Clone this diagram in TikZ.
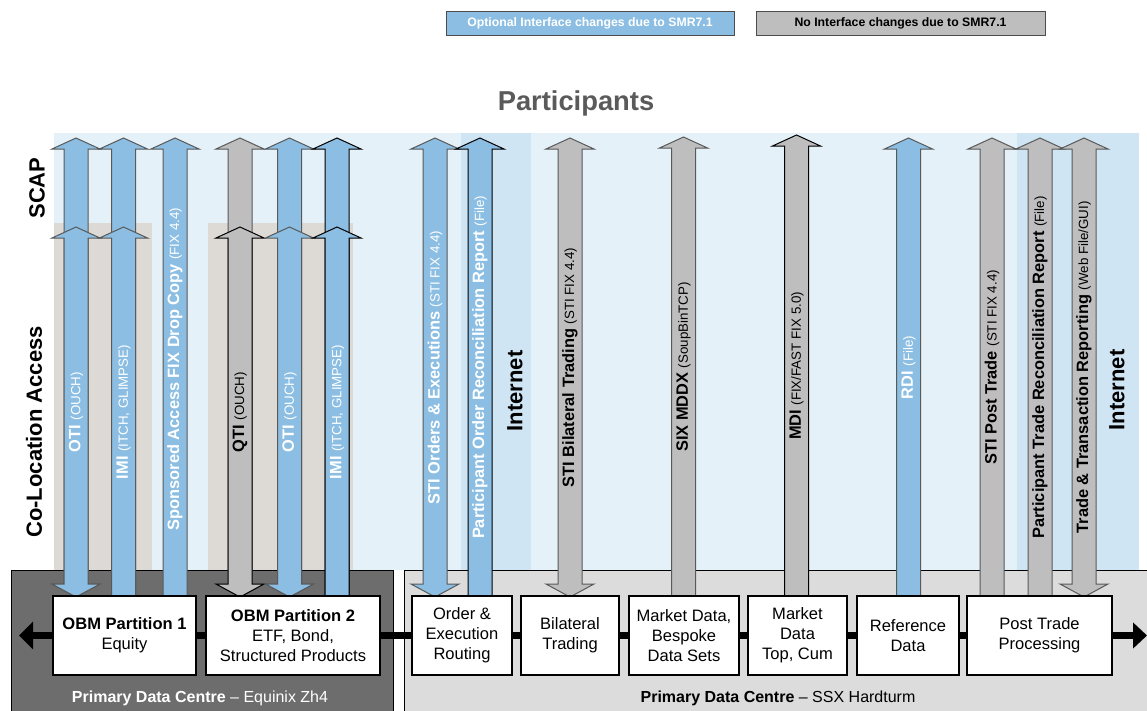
\documentclass[tikz,border=0pt]{standalone}
\usepackage{fontspec}
\setmainfont{Liberation Sans}
\usetikzlibrary{arrows.meta}

\definecolor{ifblue}{HTML}{8BBEE2}
\definecolor{ifgray}{HTML}{BEBEBE}
\definecolor{skybg}{HTML}{E5F1F8}
\definecolor{netbg}{HTML}{CFE5F3}
\definecolor{colobg}{HTML}{DDDAD6}
\definecolor{zhdark}{HTML}{6D6D6D}
\definecolor{hardlight}{HTML}{DCDCDC}
\definecolor{titlegray}{HTML}{5A5A5A}

% block arrow, head on top only: x, top, bottom, style
\newcommand{\ifaceUp}[4]{%
  \draw[#4] (#1-12,#3) -- (#1-12,#2+11) -- (#1-24,#2+11) -- (#1,#2)
    -- (#1+24,#2+11) -- (#1+12,#2+11) -- (#1+12,#3) -- cycle;}
% block arrow, heads on both ends
\newcommand{\ifaceBoth}[4]{%
  \draw[#4] (#1-12,#3-13) -- (#1-12,#2+11) -- (#1-24,#2+11) -- (#1,#2)
    -- (#1+24,#2+11) -- (#1+12,#2+11) -- (#1+12,#3-13) -- (#1+24,#3-13)
    -- (#1,#3) -- (#1-24,#3-13) -- cycle;}
\newcommand{\proto}[1]{{\fontsize{10}{12}\selectfont\mdseries #1}}

\tikzset{
  bluearr/.style={fill=ifblue, draw=black!65, line width=0.75pt},
  grayarr/.style={fill=ifgray, draw=black!65, line width=0.75pt},
  lbl/.style={rotate=90, inner sep=0pt, font=\fontsize{12.3}{14}\selectfont\bfseries},
  side/.style={rotate=90, inner sep=0pt, font=\fontsize{16.5}{19}\selectfont\bfseries},
  legend/.style={draw=black!70, line width=0.75pt, minimum height=18pt, inner sep=0pt,
    font=\fontsize{9.2}{11}\selectfont\bfseries},
  unit/.style={draw, fill=white, line width=1pt, minimum height=59.25pt, inner sep=0pt,
    align=center, font=\fontsize{12.4}{15}\selectfont},
  trunk/.style={line width=5.5pt, black}
}

\begin{document}
\begin{tikzpicture}[x=0.75pt,y=-0.75pt]
    \useasboundingbox (0,0) rectangle (1147,711);

    % Backgrounds
    \fill[skybg] (54,133) rectangle (1139,570);
    \fill[netbg] (461,133) rectangle (531,570);
    \fill[netbg] (1017,133) rectangle (1139,570);
    \fill[colobg] (54,223) rectangle (152,570);
    \fill[colobg] (208,223) rectangle (353,570);

    % Legend
    \node[legend, fill=ifblue, text=white, minimum width=216pt] (optleg) at (590,23) {Optional Interface changes due to SMR7.1};
    \node[legend, fill=ifgray, minimum width=216.75pt] (noleg) at (900.5,23) {No Interface changes due to SMR7.1};

    % Titles
    \node[font=\fontsize{20.5}{24}\selectfont\bfseries, text=titlegray] (parts) at (576,103) {Participants};
    \node[side] (scap) at (37,188) {SCAP};
    \node[side] (coloc) at (34,432) {Co-Location Access};
    \node[side] (netA) at (515,391) {Internet};
    \node[side] (netB) at (1117,390) {Internet};

    % Data centres
    \draw[line width=0.75pt, fill=zhdark] (11,570) rectangle (393,715);
    \draw[line width=0.75pt, fill=hardlight] (404,570) rectangle (1150,715);

    % Interfaces, Equinix side
    \ifaceBoth{76}{138}{597}{bluearr}
    \ifaceBoth{76}{227}{597}{bluearr}
    \node[lbl, white] (otiA) at (76,412) {OTI \proto{(OUCH)}};
    \ifaceUp{123.5}{138}{596}{bluearr}
    \ifaceUp{123.5}{227}{596}{bluearr}
    \node[lbl, white] (imiA) at (123.5,412) {IMI \proto{(ITCH, GLIMPSE)}};
    \ifaceUp{175}{138}{596}{bluearr}
    \node[lbl, white] (sponsor) at (175,369) {Sponsored Access FIX Drop Copy \proto{(FIX 4.4)}};
    \ifaceBoth{240}{138}{597}{grayarr}
    \ifaceBoth{240}{227}{597}{grayarr, draw=black}
    \node[lbl] (qti) at (240,412) {QTI \proto{(OUCH)}};
    \ifaceBoth{289.5}{138}{597}{bluearr}
    \ifaceBoth{289.5}{227}{597}{bluearr}
    \node[lbl, white] (otiB) at (289.5,412) {OTI \proto{(OUCH)}};
    \ifaceUp{337}{138}{596}{bluearr, draw=black}
    \ifaceUp{337}{227}{596}{bluearr, draw=black}
    \node[lbl, white] (imiB) at (337,412) {IMI \proto{(ITCH, GLIMPSE)}};

    % Interfaces, Hardturm side
    \ifaceBoth{435}{138}{597}{bluearr}
    \node[lbl, white] (stiord) at (435,367.5) {STI Orders \& Executions \proto{(STI FIX 4.4)}};
    \ifaceUp{480}{138}{596}{bluearr, draw=black}
    \node[lbl, white] (porr) at (480,367.5) {Participant Order Reconciliation Report \proto{(File)}};
    \ifaceBoth{570}{138}{597}{grayarr}
    \node[lbl] (stibil) at (570,367.5) {STI Bilateral Trading \proto{(STI FIX 4.4)}};
    \ifaceUp{683.5}{137}{596}{grayarr}
    \node[lbl] (mddx) at (683.5,367) {SIX MDDX \proto{(SoupBinTCP)}};
    \ifaceUp{796.5}{135}{596}{grayarr, draw=black}
    \node[lbl] (mdi) at (796.5,366) {MDI \proto{(FIX/FAST FIX 5.0)}};
    \ifaceUp{908.5}{138}{596}{bluearr}
    \node[lbl, white] (rdi) at (908.5,367.5) {RDI \proto{(File)}};
    \ifaceUp{992}{138}{596}{grayarr}
    \node[lbl] (stipost) at (992,367.5) {STI Post Trade \proto{(STI FIX 4.4)}};
    \ifaceUp{1040}{138}{596}{grayarr}
    \node[lbl] (ptrr) at (1040,367.5) {Participant Trade Reconciliation Report \proto{(File)}};
    \ifaceBoth{1084}{138}{597}{grayarr}
    \node[lbl] (ttr) at (1084,367.5) {Trade \& Transaction Reporting \proto{(Web File/GUI)}};

    % Units
    \node[unit, minimum width=107.25pt] (obmA) at (124.5,635.5) {\textbf{OBM Partition 1}\\Equity};
    \node[unit, minimum width=130.5pt] (obmB) at (293,635.5) {\textbf{OBM Partition 2}\\ETF, Bond,\\Structured Products};
    \node[unit, minimum width=75pt] (route) at (462,635.5) {Order \&\\Execution\\Routing};
    \node[unit, minimum width=73.5pt] (bilat) at (570,635.5) {Bilateral\\Trading};
    \node[unit, minimum width=82.5pt] (mdbes) at (684,635.5) {Market Data,\\Bespoke\\Data Sets};
    \node[unit, minimum width=74.25pt] (mdtop) at (797.5,635.5) {Market\\Data\\Top, Cum};
    \node[unit, minimum width=76.5pt] (refdat) at (908,635.5) {Reference\\Data};
    \node[unit, minimum width=108.75pt] (post) at (1039.5,635.5) {Post Trade\\Processing};

    % Trunk line
    \coordinate (lend) at (19,635.5);
    \coordinate (rend) at (1147,635.5);
    \draw[trunk, -{Triangle[length=10.5pt,width=20pt]}] (obmA.west) -- (lend);
    \draw[trunk, -{Triangle[length=10.5pt,width=19pt]}] (post.east) -- (rend);
    \foreach \a/\b in {obmA/obmB, obmB/route, route/bilat, bilat/mdbes, mdbes/mdtop, mdtop/refdat, refdat/post}
        \draw[trunk] (\a.east) -- (\b.west);

    % Data centre labels
    \node[white, font=\fontsize{12}{14}\selectfont] (zhlbl) at (200,698) {\textbf{Primary Data Centre} \textendash{} Equinix Zh4};
    \node[font=\fontsize{12}{14}\selectfont] (hardlbl) at (778,698) {\textbf{Primary Data Centre} \textendash{} SSX Hardturm};
\end{tikzpicture}
\end{document}
